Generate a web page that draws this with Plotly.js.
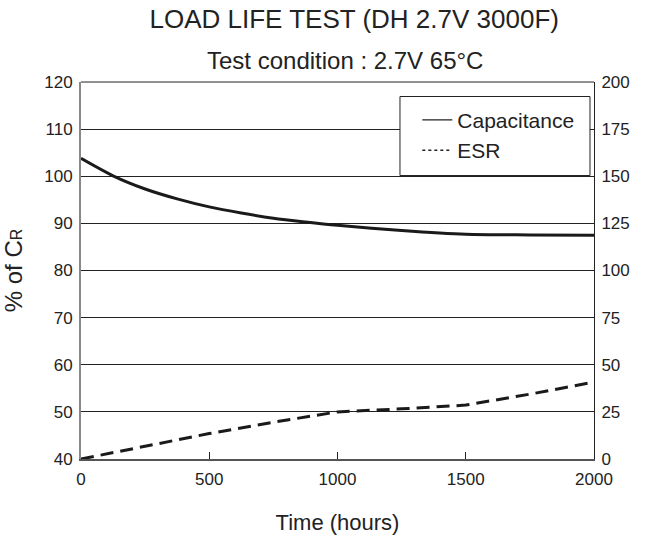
<!DOCTYPE html>
<html>
<head>
<meta charset="utf-8">
<script src="https://cdn.plot.ly/plotly-3.0.1.min.js"></script>
<style>html,body{margin:0;padding:0;background:#fff;}#chart{width:650px;height:537px;}</style>
</head>
<body>
<div id="chart"></div>
<script>
const capHours = [0, 125, 250, 375, 500, 625, 750, 875, 1000, 1250, 1500, 1750, 2000];
const capPercent = [103.8, 100.1, 97.3, 95.2, 93.5, 92.2, 91.1, 90.3, 89.6, 88.5, 87.7, 87.55, 87.5];
const esrHours = [0, 250, 500, 750, 1000, 1250, 1500, 1750, 2000];
const esrPercent = [0, 6.8, 13.5, 19.5, 25, 26.6, 28.6, 34.4, 40.8];
const leftTicks = [40, 50, 60, 70, 80, 90, 100, 110, 120];
const rightTicks = [0, 25, 50, 75, 100, 125, 150, 175, 200];
const xTicks = [0, 500, 1000, 1500, 2000];

const FONT = 'Liberation Sans, Arial, Helvetica, sans-serif';

const traces = [
  {x: capHours, y: capPercent, type: 'scatter', mode: 'lines', name: 'Capacitance',
   line: {color: '#1a1a1a', width: 3, shape: 'spline', smoothing: 0.8}, showlegend: false},
  {x: esrHours, y: esrPercent, type: 'scatter', mode: 'lines', name: 'ESR', yaxis: 'y2',
   line: {color: '#1a1a1a', width: 3, dash: '13px,7px'}, showlegend: false},
  {x: [null], y: [null], type: 'scatter', mode: 'lines', name: 'Capacitance',
   line: {color: '#222', width: 1.2}, showlegend: true},
  {x: [null], y: [null], type: 'scatter', mode: 'lines', name: 'ESR', yaxis: 'y2',
   line: {color: '#222', width: 1.5, dash: 'dot'}, showlegend: true}
];

const layout = {
  width: 650, height: 537,
  paper_bgcolor: '#fff', plot_bgcolor: '#fff',
  margin: {l: 81, r: 56, t: 82, b: 78},
  font: {family: FONT, size: 17, color: '#222'},
  showlegend: true,
  legend: {x: 0.6556, y: 0.953, xanchor: 'left', yanchor: 'top',
    borderwidth: 0, bgcolor: 'rgba(0,0,0,0)',
    font: {family: FONT, size: 21, color: '#222'}, tracegroupgap: 0},
  xaxis: {range: [0, 2000], tickvals: xTicks, ticks: 'inside', ticklen: 7, tickcolor: '#222',
    showgrid: false, zeroline: false, showline: true, linecolor: '#555', linewidth: 2,
    mirror: false, tickfont: {size: 17}, ticklabelstandoff: 4,
    title: {text: 'Time (hours)', font: {size: 22}, standoff: 26}},
  yaxis: {range: [40, 120], tickvals: leftTicks, ticks: 'inside', ticklen: 8, tickcolor: '#222',
    showgrid: true, gridcolor: '#222', gridwidth: 1, zeroline: false,
    showline: true, linecolor: '#888', linewidth: 2, tickfont: {size: 17}, ticklabelstandoff: 3,
    title: {text: '% of C<span style="font-size:16px">R</span>', font: {size: 24}, standoff: 17}},
  yaxis2: {range: [0, 200], tickvals: rightTicks, overlaying: 'y', side: 'right',
    ticks: 'inside', ticklen: 8, tickcolor: '#222', showgrid: false, zeroline: false,
    showline: true, linecolor: '#222', linewidth: 1, tickfont: {size: 17}, ticklabelstandoff: 3},
  shapes: [
    {type: 'line', xref: 'paper', yref: 'paper', x0: 0, x1: 1, y0: 1, y1: 1,
     line: {color: '#222', width: 1}},
    {type: 'rect', xref: 'paper', yref: 'paper', x0: 0.6218, x1: 0.9922, y0: 0.7519, y1: 0.9615,
     fillcolor: '#fff', layer: 'above', line: {color: '#222', width: 1}}
  ],
  title: {text: 'LOAD LIFE TEST (DH 2.7V 3000F)', font: {family: FONT, size: 26, color: '#222'},
    x: 0.545, xanchor: 'center', y: 0.982, yanchor: 'top'},
  annotations: [{text: 'Test condition : 2.7V 65°C', xref: 'paper', yref: 'paper',
    x: 0.515, y: 1.016, xanchor: 'center', yanchor: 'bottom', showarrow: false,
    font: {family: FONT, size: 24, color: '#222'}}]
};

Plotly.newPlot('chart', traces, layout, {displayModeBar: false, staticPlot: true});
</script>
</body>
</html>
